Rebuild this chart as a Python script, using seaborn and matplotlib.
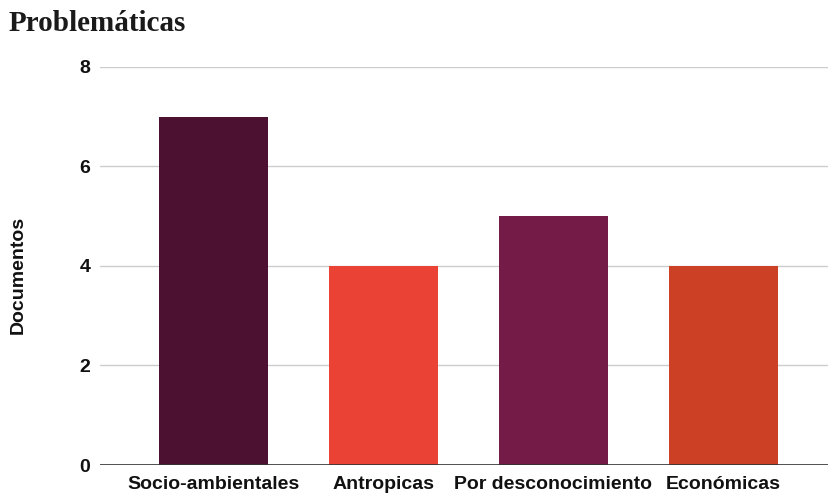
import matplotlib
matplotlib.use("Agg")
import matplotlib.pyplot as plt
import pandas as pd
import seaborn as sns

# Data
categorias = ["Socio-ambientales", "Antropicas", "Por desconocimiento", "Económicas"]
documentos = [7, 4, 5, 4]
colores = ["#4c1130", "#ea4335", "#741b47", "#cc4125"]

df = pd.DataFrame({"categoria": categorias, "documentos": documentos})

sns.set_style("white")
plt.rcParams["font.family"] = ["Liberation Sans", "DejaVu Sans"]

fig = plt.figure(figsize=(8.31, 4.94), dpi=100)
ax = fig.add_axes([0.1203, 0.0587, 0.8761, 0.8057])

sns.barplot(data=df, x="categoria", y="documentos", hue="categoria",
            palette=colores, saturation=1, width=0.64, linewidth=0,
            legend=False, ax=ax, zorder=2)

ax.set_xlim(-0.668, 3.615)
ax.set_ylim(0, 8)
ax.set_yticks([0, 2, 4, 6, 8])
ax.yaxis.grid(True, color="#cccccc", linewidth=1, zorder=0)
ax.axhline(0, color="#333333", linewidth=1.2, zorder=3)
for s in ax.spines.values():
    s.set_visible(False)
ax.tick_params(axis="both", length=0, labelsize=14, labelcolor="#111111")
ax.tick_params(axis="y", pad=7)
ax.tick_params(axis="x", pad=8)
for lab in ax.get_xticklabels() + ax.get_yticklabels():
    lab.set_fontweight("bold")
ax.set_xlabel("")
ax.set_ylabel("Documentos", fontsize=14, fontweight="bold", color="#111111")
ax.yaxis.set_label_coords(-0.1005, 0.477)

fig.text(0.01, 0.952, "Problemáticas", fontsize=21, family="Liberation Serif",
         fontweight="semibold", va="center", ha="left", color="#1a1a1a")

fig.savefig("out.png", dpi=100)
